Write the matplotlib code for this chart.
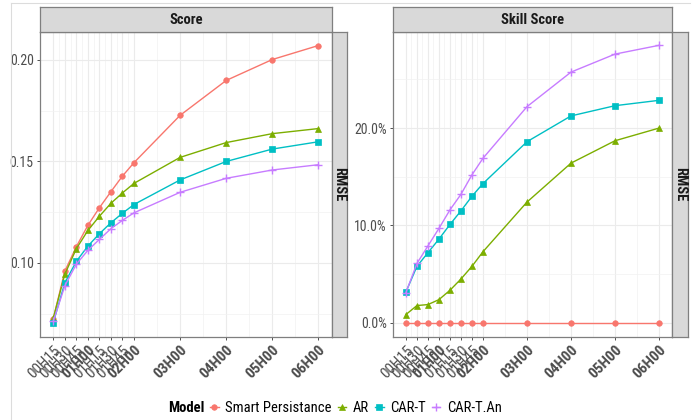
import matplotlib
matplotlib.use("Agg")
import matplotlib.pyplot as plt
from matplotlib.lines import Line2D

plt.rcParams['font.family'] = ['Roboto Condensed', 'Liberation Sans', 'DejaVu Sans']

# horizons in minutes and their labels
minutes = [15, 30, 45, 60, 75, 90, 105, 120, 180, 240, 300, 360]
tick_labels = ["00H15", "00H30", "00H45", "01H00", "01H15", "01H30", "01H45",
               "02H00", "03H00", "04H00", "05H00", "06H00"]

models = ["Smart Persistance", "AR", "CAR-T", "CAR-T.An"]

# RMSE score
score_sp = [0.0725, 0.0959, 0.108, 0.1185, 0.1272, 0.1351, 0.1428, 0.1494, 0.1727, 0.1899, 0.2002, 0.2071]
score_ar = [0.0728, 0.0944, 0.107, 0.116, 0.123, 0.1294, 0.1345, 0.1392, 0.152, 0.1593, 0.1637, 0.1662]
score_cart = [0.0706, 0.0902, 0.1008, 0.1083, 0.1144, 0.1198, 0.1245, 0.1288, 0.1409, 0.150, 0.1561, 0.1597]
score_cartan = [0.0712, 0.0887, 0.0994, 0.1062, 0.1116, 0.1169, 0.121, 0.1247, 0.1348, 0.1417, 0.1458, 0.1484]

# skill score (%)
skill_sp = [0, 0, 0, 0, 0, 0, 0, 0, 0, 0, 0, 0]
skill_ar = [0.85, 1.77, 1.87, 2.38, 3.34, 4.5, 5.8, 7.3, 12.4, 16.4, 18.7, 20.0]
skill_cart = [3.17, 5.8, 7.2, 8.6, 10.1, 11.5, 13.0, 14.3, 18.6, 21.25, 22.3, 22.85]
skill_cartan = [3.1, 6.1, 7.9, 9.7, 11.6, 13.2, 15.2, 16.9, 22.2, 25.75, 27.6, 28.5]

colors = ["#F8766D", "#7CAE00", "#00BFC4", "#C77CFF"]
markers = ["o", "^", "s", "+"]
bold_ticks = {"01H00", "02H00", "03H00", "04H00", "05H00", "06H00"}

W, H = 700, 420
fig = plt.figure(figsize=(7, 4.2), dpi=100)


def px(x0, y0, x1, y1):
    return [x0 / W, 1 - y1 / H, (x1 - x0) / W, (y1 - y0) / H]


def strip(rect, text, rotation=0):
    sa = fig.add_axes(px(*rect))
    sa.set_xticks([]); sa.set_yticks([])
    sa.set_facecolor("#d9d9d9")
    for s in sa.spines.values():
        s.set_color("#7f7f7f"); s.set_linewidth(0.9)
    sa.text(0.5, 0.5, text, ha="center", va="center", rotation=rotation,
            fontsize=10.5, fontweight="bold", color="#1a1a1a", transform=sa.transAxes)


def panel(rect, series, ylim, yticks, yminor, ylabels):
    ax = fig.add_axes(px(*rect))
    handles = []
    for vals, c, m in zip(series, colors, markers):
        ms = 5.5 if m == "+" else 4
        h, = ax.plot(minutes, vals, color=c, marker=m, markersize=ms, lw=1.0,
                     markeredgewidth=1.0 if m == "+" else 0.5)
        handles.append(h)
    ax.set_xlim(15 - 17.25, 360 + 17.25)
    ax.set_ylim(*ylim)
    ax.set_xticks(minutes)
    ax.set_xticks([(a + b) / 2 for a, b in zip(minutes[:-1], minutes[1:])], minor=True)
    ax.set_xticklabels(tick_labels, rotation=45, ha="right", va="top",
                       rotation_mode="anchor", fontsize=11, color="#4d4d4d")
    for lab in ax.get_xticklabels():
        lab.set_fontweight("bold" if lab.get_text() in bold_ticks else "normal")
    ax.set_yticks(yticks)
    ax.set_yticks(yminor, minor=True)
    ax.set_yticklabels(ylabels, fontsize=10, color="#4d4d4d")
    ax.grid(True, which="major", color="#ebebeb", lw=0.8)
    ax.grid(True, which="minor", color="#f2f2f2", lw=0.5)
    ax.set_axisbelow(True)
    ax.tick_params(which="major", length=2.5, width=0.6, color="#333333", pad=2)
    ax.tick_params(which="minor", length=0)
    for s in ax.spines.values():
        s.set_color("#7f7f7f"); s.set_linewidth(0.9)
    return ax, handles


# left panel: Score
ax1, handles = panel((40, 31.7, 331.7, 336.7),
                     [score_sp, score_ar, score_cart, score_cartan],
                     (0.0637, 0.2139), [0.10, 0.15, 0.20], [0.075, 0.125, 0.175],
                     ["0.10", "0.15", "0.20"])
strip((40, 7.3, 331.7, 31.7), "Score")
strip((331.7, 31.7, 346.7, 336.7), "RMSE", rotation=-90)

# right panel: Skill Score
ax2, _ = panel((393.3, 31.7, 671.7, 336.7),
               [skill_sp, skill_ar, skill_cart, skill_cartan],
               (-1.43, 29.9), [0, 10, 20], [5, 15, 25],
               ["0.0%", "10.0%", "20.0%"])
strip((393.3, 7.3, 671.7, 31.7), "Skill Score")
strip((671.7, 31.7, 688, 336.7), "RMSE", rotation=-90)

# faint outer frame lines
fig.add_artist(Line2D([10.5 / W, 10.5 / W], [0, 1 - 3.3 / H], color="#dcdcdc", lw=0.8))
fig.add_artist(Line2D([10.5 / W, 690 / W], [1 - 3.3 / H, 1 - 3.3 / H], color="#dcdcdc", lw=0.8))

# legend
fig.text(168 / W, 1 - 408 / H, "Model", fontsize=10.5, fontweight="bold",
         ha="left", va="center", color="black")
fig.legend(handles, models, ncol=4, loc="center left",
           bbox_to_anchor=(210 / W, 1 - 408 / H), frameon=False,
           fontsize=10.5, handlelength=0.6, handletextpad=0.45,
           columnspacing=0.4, borderpad=0, borderaxespad=0)

fig.savefig("out.png", dpi=100)
